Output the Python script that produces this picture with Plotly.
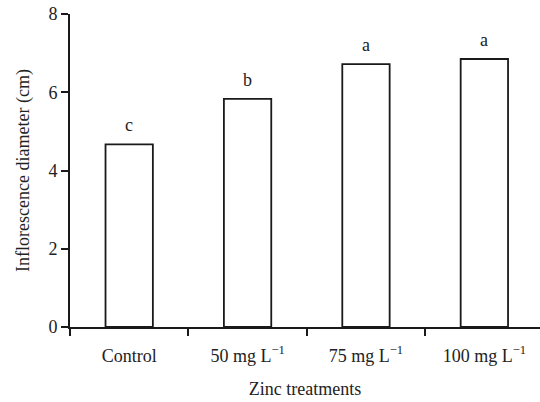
import plotly.graph_objects as go

categories = ["Control", "50 mg L<sup>\u22121</sup>", "75 mg L<sup>\u22121</sup>", "100 mg L<sup>\u22121</sup>"]
diameter = [4.67, 5.83, 6.72, 6.85]
letters = ["c", "b", "a", "a"]
y_ticks = [0, 2, 4, 6, 8]

FONT = "Liberation Serif, Times New Roman, serif"

fig = go.Figure()
fig.add_trace(go.Bar(
    x=categories, y=diameter, width=0.4,
    marker=dict(color="white", line=dict(color="#1a1a1a", width=1.8)),
    showlegend=False,
))
for c, v, l in zip(categories, diameter, letters):
    fig.add_annotation(x=c, y=v, text=l, showarrow=False, yanchor="bottom", yshift=7,
                       font=dict(family=FONT, size=18, color="#222"))

fig.update_layout(
    width=540, height=402,
    margin=dict(l=70, r=0, t=14, b=75),
    plot_bgcolor="white", paper_bgcolor="white",
    font=dict(family=FONT, size=18, color="#222"),
    bargap=0.6,
)
fig.update_xaxes(
    type="category", range=[-0.5, 3.47], tickson="boundaries",
    showline=True, linecolor="#1a1a1a", linewidth=2,
    ticks="outside", ticklen=7, tickwidth=2, tickcolor="#1a1a1a",
    ticklabelstandoff=11, showgrid=False, zeroline=False,
    title=dict(text="Zinc treatments", standoff=18, font=dict(size=18)),
    automargin=False,
)
fig.update_yaxes(
    range=[0, 8], tickvals=y_ticks,
    showline=True, linecolor="#1a1a1a", linewidth=2,
    ticks="outside", ticklen=7, tickwidth=2, tickcolor="#1a1a1a",
    ticklabelstandoff=0, showgrid=False, zeroline=False,
    title=dict(text="Inflorescence diameter (cm)", standoff=14, font=dict(size=18)),
    automargin=False,
)
fig.write_html("out.html")
